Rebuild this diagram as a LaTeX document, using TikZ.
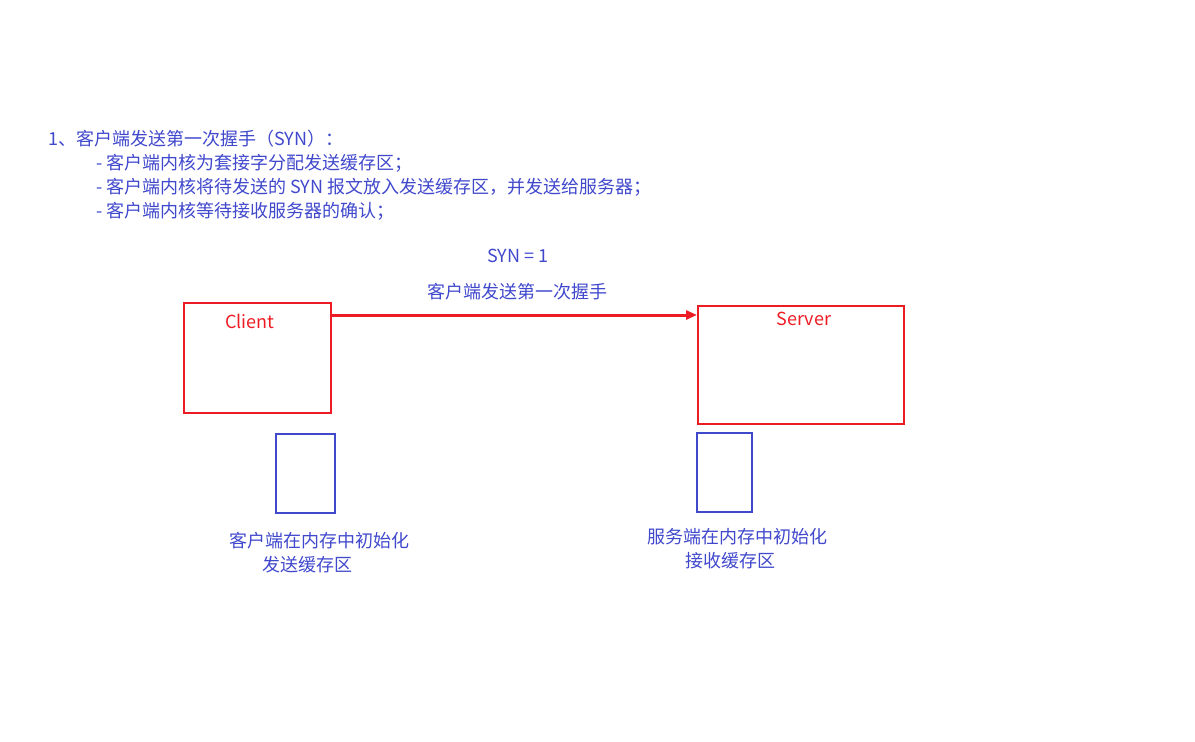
\documentclass[tikz,border=0pt]{standalone}
\usepackage{fontspec}
\setmainfont{Noto Sans CJK SC}
\usepackage{xcolor}
\usepackage{tikz}
\usetikzlibrary{arrows.meta, positioning, calc}
\definecolor{synred}{RGB}{237, 28, 36}
\definecolor{noteblue}{RGB}{64, 72, 204}

\begin{document}
\begin{tikzpicture}[
    x=1pt, y=-1pt,
    note/.style={inner sep=0pt, text=noteblue, font=\fontsize{18}{24}\selectfont},
    hostbox/.style={draw=synred, line width=2pt, inner sep=0pt},
    hostlabel/.style={inner sep=0pt, text=synred, font=\fontsize{18}{24}\selectfont},
    bufbox/.style={draw=noteblue, line width=2pt, inner sep=0pt},
    arrow/.style={-{Triangle[length=11pt, width=9pt]}, draw=synred, line width=3pt}
]
    \useasboundingbox (0,0) rectangle (1195,742);

    % steps of the first handshake
    \node[note, anchor=west] (step) at (48,139) {1、客户端发送第一次握手（SYN）：};
    \node[note, anchor=west] (stepa) at (96,163) {- 客户端内核为套接字分配发送缓存区；};
    \node[note, anchor=west] (stepb) at (96,187) {- 客户端内核将待发送的 SYN 报文放入发送缓存区，并发送给服务器；};
    \node[note, anchor=west] (stepc) at (96,211) {- 客户端内核等待接收服务器的确认；};

    % hosts
    \node[hostbox, minimum width=147pt, minimum height=110pt] (client) at (257.5,358) {};
    \node[hostbox, minimum width=206pt, minimum height=118pt] (server) at (801,365) {};
    \node[hostlabel] (clientname) at (250,321) {Client};
    \node[hostlabel] (servername) at (804,319) {Server};

    \draw[arrow] ([yshift=-13pt]client.north east) -- ([yshift=-13pt]client.north east -| server.west);
    \node[note] (synflag) at (518,256) {SYN = 1};
    \node[note] (synlabel) at (517,292) {客户端发送第一次握手};

    % buffers
    \node[bufbox, minimum width=59pt, minimum height=79pt] (sendbuf) at (305.5,473.5) {};
    \node[bufbox, minimum width=55pt, minimum height=79pt] (recvbuf) at (724.5,472.5) {};
    \node[note, align=left, anchor=north west] (sendnote) at (229,532) {客户端在内存中初始化\\\hspace*{33pt}发送缓存区};
    \node[note, align=left, anchor=north west] (recvnote) at (647,528) {服务端在内存中初始化\\\hspace*{38pt}接收缓存区};
\end{tikzpicture}
\end{document}
